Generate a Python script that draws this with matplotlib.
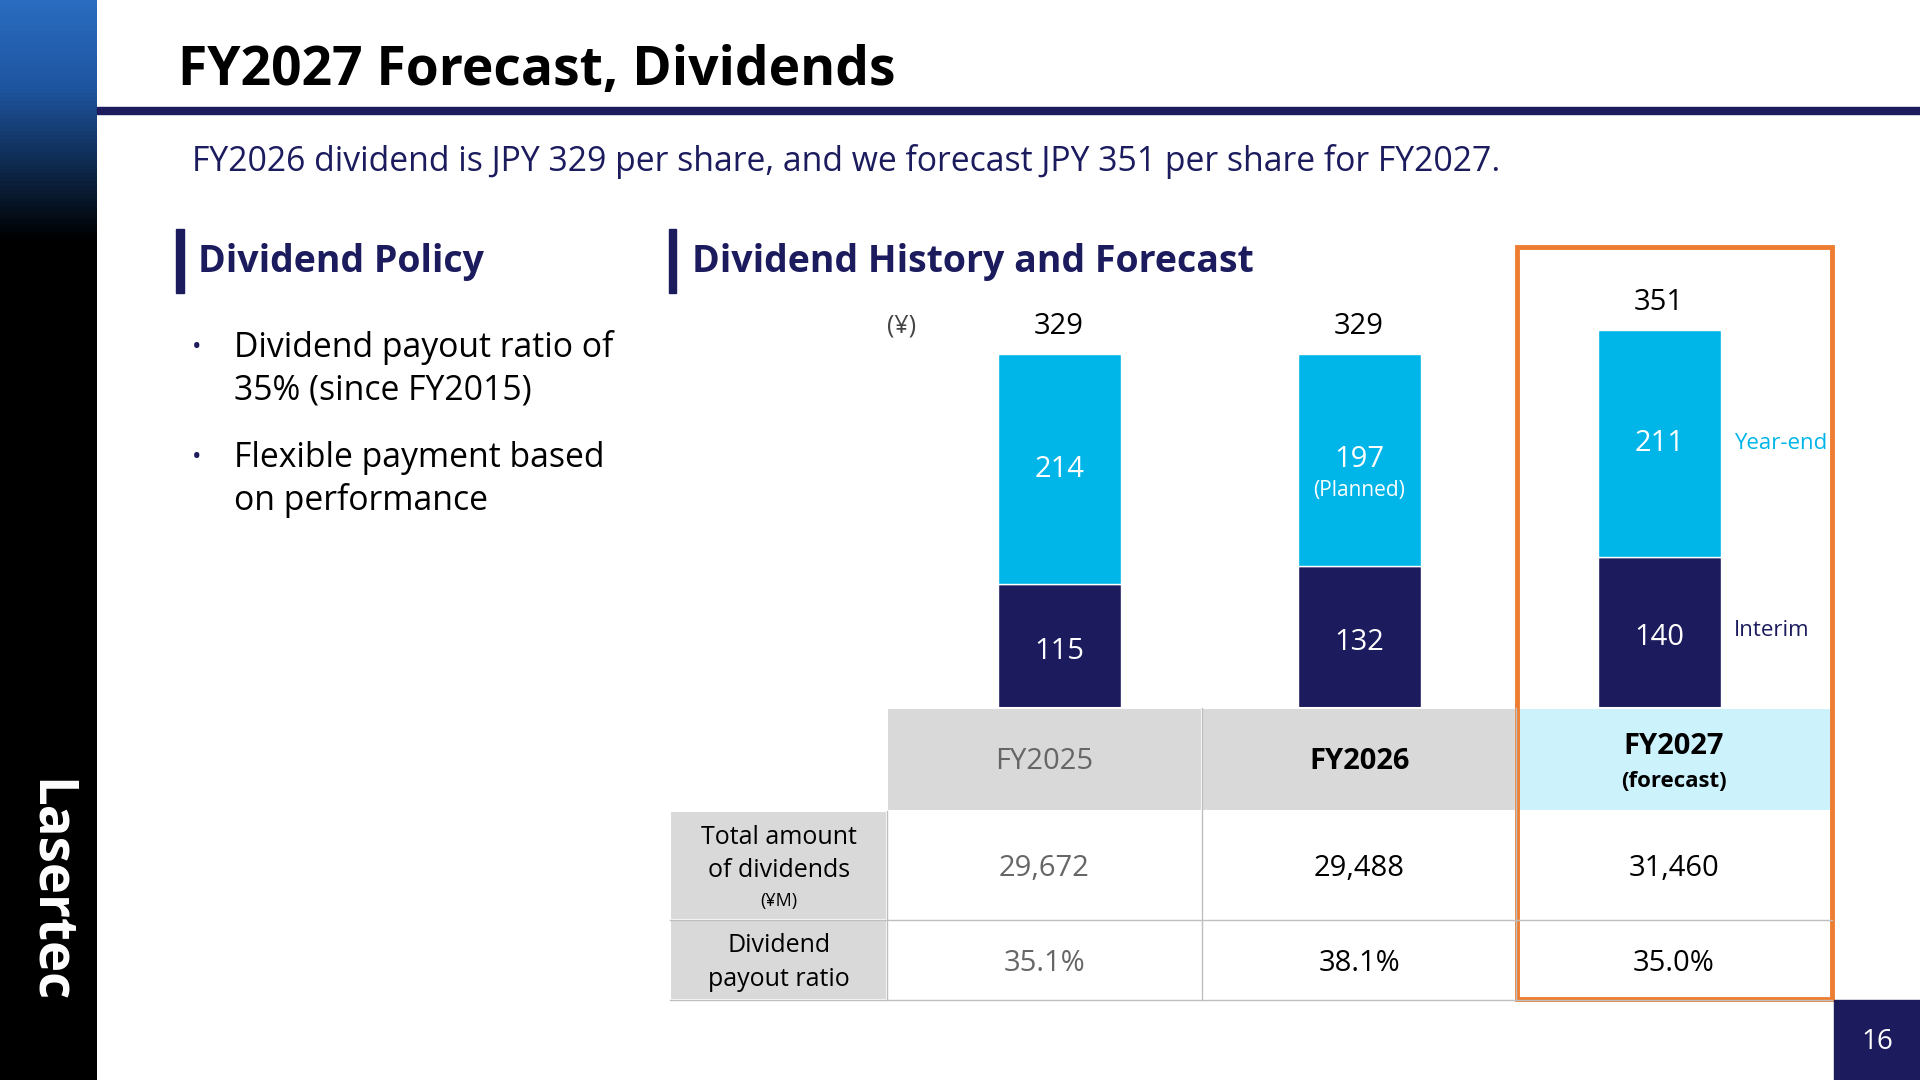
import matplotlib
matplotlib.use("Agg")
import matplotlib.pyplot as plt
import numpy as np
from matplotlib.patches import Rectangle
from matplotlib.colors import LinearSegmentedColormap

plt.rcParams['font.family'] = ['Open Sans', 'DejaVu Sans']

years = ["FY2025", "FY2026", "FY2027"]
interim = [115, 132, 140]
year_end = [214, 197, 211]
totals = [329, 329, 351]
total_amount = ["29,672", "29,488", "31,460"]
payout = ["35.1%", "38.1%", "35.0%"]

NAVY = "#1B1B5E"
CYAN = "#00B5E8"
W, H = 1568, 882

fig = plt.figure(figsize=(19.2, 10.8), dpi=100)

left_px, right_px, base_px, top_px = 724, 1496, 578, 200
ax = fig.add_axes([left_px / W, 1 - base_px / H, (right_px - left_px) / W, (base_px - top_px) / H])
ax.set_xlim((left_px - 865) / 245, (right_px - 865) / 245)
ax.set_ylim(0, (base_px - top_px) / 0.878)
ax.axis("off")
x = np.arange(len(years))
ax.bar(x, interim, width=0.41, color=NAVY, edgecolor="white", linewidth=1)
ax.bar(x, year_end, bottom=interim, width=0.41, color=CYAN, edgecolor="white", linewidth=1)
for i in range(len(years)):
    ax.text(x[i], interim[i] / 2 - 5, str(interim[i]), ha="center", va="center", color="white", fontsize=21)
    if i == 1:
        ax.text(x[i], interim[i] + year_end[i] / 2, str(year_end[i]), ha="center", va="center", color="white", fontsize=21)
        ax.text(x[i], interim[i] + year_end[i] / 2 - 28, "(Planned)", ha="center", va="center", color="white", fontsize=15)
    else:
        ax.text(x[i], interim[i] + year_end[i] / 2, str(year_end[i]), ha="center", va="center", color="white", fontsize=21)
    ax.text(x[i], totals[i] + 12, str(totals[i]), ha="center", va="bottom", color="black", fontsize=21)
ax.text(x[2] + 0.56, interim[2] + year_end[2] / 2, "Year-end", ha="right", va="center", color=CYAN, fontsize=16)
ax.text(x[2] + 0.50, interim[2] / 2 + 2, "Interim", ha="right", va="center", color=NAVY, fontsize=16)

ov = fig.add_axes([0, 0, 1, 1], zorder=5)
ov.set_xlim(0, W); ov.set_ylim(H, 0); ov.axis("off"); ov.patch.set_alpha(0)

grad = np.linspace(0, 1, 256).reshape(-1, 1)
cm = LinearSegmentedColormap.from_list("g", [(0, "#2A6CC0"), (0.08, "#1E55A0"), (0.22, "#000000"), (1, "#000000")])
ov.imshow(grad, cmap=cm, extent=[0, 79, H, 0], aspect="auto", zorder=0)
ov.text(40, 728, "Lasertec", rotation=-90, ha="center", va="center", color="white", fontsize=38, fontweight="bold")

ov.text(145, 58, "FY2027 Forecast, Dividends", fontsize=38.5, fontweight="bold", va="center", color="black")
ov.add_patch(Rectangle((79, 87), W - 79, 6, color=NAVY))
ov.text(157, 132, "FY2026 dividend is JPY 329 per share, and we forecast JPY 351 per share for FY2027.",
        fontsize=24.3, color=NAVY, va="center")

ov.add_patch(Rectangle((144, 187), 6, 52, color=NAVY))
ov.text(162, 214, "Dividend Policy", fontsize=27, fontweight="bold", color=NAVY, va="center")
ov.add_patch(Rectangle((546, 187), 6, 52, color=NAVY))
ov.text(565, 214, "Dividend History and Forecast", fontsize=27, fontweight="bold", color=NAVY, va="center")

ov.text(157, 284, "•", fontsize=18, color=NAVY, va="center")
ov.text(191, 284, "Dividend payout ratio of", fontsize=24.3, va="center")
ov.text(191, 319, "35% (since FY2015)", fontsize=24.3, va="center")
ov.text(157, 374, "•", fontsize=18, color=NAVY, va="center")
ov.text(191, 374, "Flexible payment based", fontsize=24.3, va="center")
ov.text(191, 409, "on performance", fontsize=24.3, va="center")

ov.text(736, 266, "(¥)", fontsize=18, color="#444444", ha="center", va="center")

cols = [724, 982, 1238, 1496]
ec = "#BFBFBF"
for i in range(3):
    fc = "#CCF2FC" if i == 2 else "#D9D9D9"
    ov.add_patch(Rectangle((cols[i], 578), cols[i + 1] - cols[i], 84, facecolor=fc, edgecolor="white", lw=1.5))
ov.add_patch(Rectangle((547, 662), 177, 89, facecolor="#D9D9D9", edgecolor="white", lw=1.5))
ov.add_patch(Rectangle((547, 751), 177, 66, facecolor="#D9D9D9", edgecolor="white", lw=1.5))
for y in [751, 817]:
    ov.plot([547, 1496], [y, y], color=ec, lw=1)
for xx in cols[1:3]:
    ov.plot([xx, xx], [578, 817], color=ec, lw=1)
ov.plot([724, 724], [662, 817], color=ec, lw=1)

ov.text(853, 622, years[0], fontsize=21, color="#666666", ha="center", va="center")
ov.text(1110, 622, years[1], fontsize=21, fontweight="bold", ha="center", va="center")
ov.text(1367, 610, years[2], fontsize=21, fontweight="bold", ha="center", va="center")
ov.text(1367, 638, "(forecast)", fontsize=16, fontweight="bold", ha="center", va="center")

ov.text(636, 684, "Total amount", fontsize=18, ha="center", va="center")
ov.text(636, 711, "of dividends", fontsize=18, ha="center", va="center")
ov.text(636, 736, "(¥M)", fontsize=13, ha="center", va="center")
ov.text(636, 772, "Dividend", fontsize=18, ha="center", va="center")
ov.text(636, 800, "payout ratio", fontsize=18, ha="center", va="center")

centers = [853, 1110, 1367]
for i in range(3):
    c = "#666666" if i == 0 else "black"
    ov.text(centers[i], 709, total_amount[i], fontsize=21, color=c, ha="center", va="center")
    ov.text(centers[i], 787, payout[i], fontsize=21, color=c, ha="center", va="center")

ov.add_patch(Rectangle((1239, 202), 257, 614, fill=False, edgecolor="#ED7D31", lw=3.5))

ov.add_patch(Rectangle((1498, 817), 70, 65, color=NAVY))
ov.text(1533, 851, "16", fontsize=20, color="white", ha="center", va="center")

fig.savefig("out.png", dpi=100)
